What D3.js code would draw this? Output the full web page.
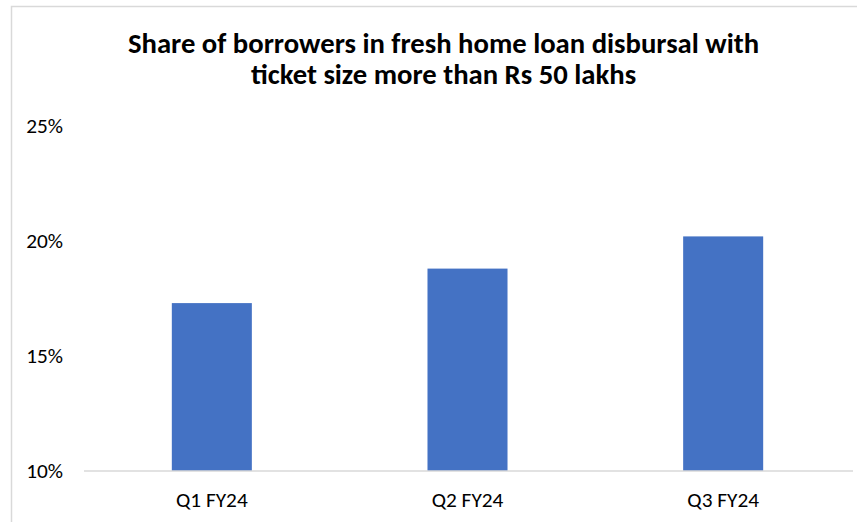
<!DOCTYPE html>
<html>
<head>
<meta charset="utf-8">
<script src="https://cdn.jsdelivr.net/npm/d3@7"></script>
<style>
  html, body { margin: 0; padding: 0; background: #fff; }
  svg { display: block; }
  text { font-family: Calibri, Carlito, "Open Sans", sans-serif; fill: #000; }
</style>
</head>
<body>
<svg id="chart" width="857" height="522"></svg>
<script>
const categories = ["Q1 FY24", "Q2 FY24", "Q3 FY24"];
const shareValues = [17.3, 18.8, 20.2];
const yTicks = [10, 15, 20, 25];
const titleLines = ["Share of borrowers in fresh home loan disbursal with", "ticket size more than Rs 50 lakhs"];

const W = 857, H = 522;
const margin = { left: 84, right: 6, top: 126, bottom: 51 };
const FONT = 'Calibri, Carlito, "Open Sans", sans-serif';
const svg = d3.select("#chart");

// chart area border
svg.append("rect")
  .attr("x", 11.5).attr("y", 6.5)
  .attr("width", W + 20).attr("height", H + 20)
  .attr("fill", "#fff").attr("stroke", "#d9d9d9").attr("stroke-width", 1.5);

const x = d3.scaleBand()
  .domain(categories)
  .range([margin.left, W - margin.right])
  .paddingInner(0.687)
  .paddingOuter(0.3435);

const y = d3.scaleLinear()
  .domain([10, 25])
  .range([H - margin.bottom, margin.top]);

// bars
svg.append("g").selectAll("rect")
  .data(categories)
  .join("rect")
  .attr("x", d => x(d))
  .attr("width", x.bandwidth())
  .attr("y", (d, i) => y(shareValues[i]))
  .attr("height", (d, i) => y(10) - y(shareValues[i]))
  .attr("fill", "#4472c4");

// x axis
const xAxis = svg.append("g")
  .attr("transform", `translate(0,${y(10)})`)
  .call(d3.axisBottom(x).tickSize(0).tickPadding(21));
xAxis.select(".domain").attr("stroke", "#d9d9d9").attr("stroke-width", 1.5)
  .attr("d", `M${margin.left},0H${W - margin.right + 2}`);
xAxis.selectAll("text").attr("font-size", 21.3).attr("fill", "#000")
  .style("font-family", FONT);

// y axis
const yAxis = svg.append("g")
  .attr("transform", `translate(63,0)`)
  .call(d3.axisLeft(y).tickValues(yTicks).tickSize(0).tickPadding(0).tickFormat(d => d + "%"));
yAxis.select(".domain").remove();
yAxis.selectAll("text").attr("font-size", 21.3).attr("fill", "#000")
  .style("font-family", FONT);

// title
const title = svg.append("text")
  .attr("x", 443.5).attr("y", 52.5)
  .attr("text-anchor", "middle")
  .attr("font-size", 28.7).attr("font-weight", "bold")
  .style("font-family", FONT);
title.selectAll("tspan").data(titleLines).join("tspan")
  .attr("x", 443.5)
  .attr("dy", (d, i) => i === 0 ? 0 : 31)
  .text(d => d);
</script>
</body>
</html>
